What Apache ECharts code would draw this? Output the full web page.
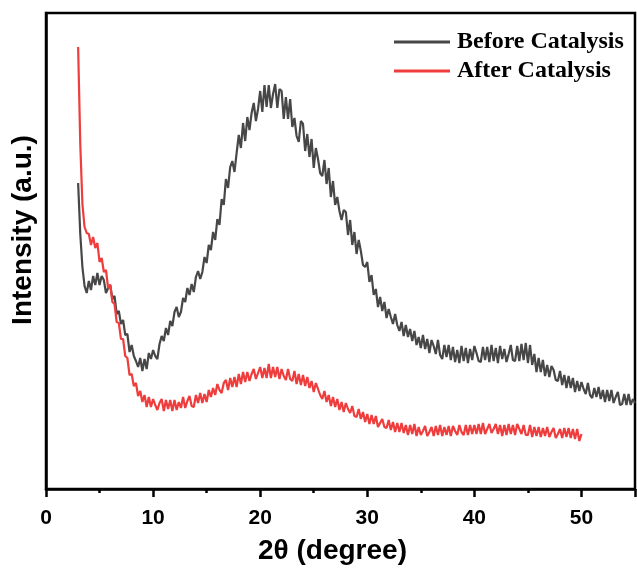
<!DOCTYPE html>
<html><head><meta charset="utf-8">
<script src="https://cdn.jsdelivr.net/npm/echarts@6/dist/echarts.min.js"></script>
<style>html,body{margin:0;padding:0;background:#fff}#c{width:637px;height:569px}</style>
</head><body><div id="c"></div>
<script>
// 2θ sampling: start and step (degrees)
var beforeStart = 3, afterStart = 3, step = 0.2;
var xTicks = [0, 10, 20, 30, 40, 50];
var seriesNames = ['Before Catalysis', 'After Catalysis'];
var beforeValues = [
306,255,222,203,196,
208,199,213,204,216,
204,213,209,196,201,
204,190,193,175,178,
165,169,154,155,137,
144,133,128,122,131,
118,130,120,136,130,
139,133,130,145,153,
148,161,154,168,163,
177,182,172,177,191,
187,201,194,205,197,
212,218,210,217,232,
226,244,239,257,249,
270,264,290,284,310,
301,322,328,317,336,
354,341,366,348,372,
359,376,386,368,380,
398,377,404,382,404,
381,395,405,381,400,
398,370,392,370,390,
362,371,353,347,368,
365,338,355,332,350,
321,341,330,316,313,
329,305,321,292,308,
284,292,278,269,279,
277,254,269,244,257,
235,249,238,224,222,
227,207,214,194,200,
182,192,178,187,171,
180,172,165,175,164,
158,167,153,164,152,
160,148,158,144,152,
141,154,140,150,136,
149,143,135,149,134,
130,144,132,144,129,
142,127,139,126,143,
128,141,126,140,129,
143,136,128,127,142,
129,142,127,144,128,
141,126,143,130,140,
127,135,144,129,128,
143,128,145,129,146,
126,144,124,135,117,
131,117,129,113,124,
112,123,119,109,108,
118,104,114,101,113,
101,111,97,108,98,
107,100,95,106,94,
91,101,92,102,90,
99,87,99,88,99,
86,92,97,84,85,
95,84,95,84,90,
86
];
var afterValues = [
442,345,285,262,256,
255,244,252,241,246,
227,231,217,219,201,
204,187,185,167,166,
150,150,133,131,114,
115,103,106,93,98,
87,94,82,92,82,
90,84,79,86,90,
78,89,80,89,78,
89,79,87,81,92,
81,88,93,83,82,
94,86,96,86,95,
87,99,92,101,94,
105,99,96,106,109,
99,111,102,112,102,
115,105,117,107,117,
108,115,120,110,116,
122,111,121,111,125,
111,122,112,122,110,
120,113,109,120,110,
108,118,105,115,104,
114,103,112,101,108,
97,106,100,94,90,
98,87,94,83,92,
82,90,79,87,77,
86,80,76,83,73,
72,80,70,77,67,
75,65,74,65,73,
62,66,70,62,61,
69,59,67,57,66,
57,66,56,64,54,
64,55,65,53,62,
54,58,63,53,57,
62,53,63,54,64,
53,62,54,63,53,
63,58,54,64,57,
54,64,54,64,55,
64,55,65,55,66,
55,60,65,56,60,
65,55,64,53,64,
54,65,55,64,54,
65,60,55,64,54,
54,64,52,62,53,
62,52,61,53,62,
52,57,61,51,55,
60,51,61,52,61,
51,60,50,60,48,
55
];

function pairs(start, vals) {
  return vals.map(function (v, i) { return [Math.round((start + i * step) * 100) / 100, v]; });
}

var chart = echarts.init(document.getElementById('c'), null, {renderer: 'canvas'});
chart.setOption({
  animation: false,
  backgroundColor: '#fff',
  grid: {left: 46, right: 2, top: 13, bottom: 80, containLabel: false, outerBoundsMode: 'none',
    show: true, borderColor: '#000', borderWidth: 2.5, backgroundColor: 'transparent'},
  legend: {
    data: seriesNames,
    orient: 'vertical',
    left: 389, top: 25,
    itemWidth: 56, itemHeight: 3, itemGap: 5,
    icon: 'rect',
    textStyle: {fontFamily: 'Liberation Serif', fontWeight: 'bold', fontSize: 24, color: '#000', padding: [0, 0, 0, 2]}
  },
  xAxis: {
    type: 'value', min: 0, max: 55, interval: 10,
    name: '2θ (degree)', nameLocation: 'middle', nameGap: 48,
    nameTextStyle: {fontFamily: 'Liberation Sans', fontWeight: 'bold', fontSize: 28, color: '#000', padding: [0, 16, 0, 0]},
    axisLine: {show: true, lineStyle: {color: '#000', width: 2.5}},
    axisTick: {show: true, length: 8, lineStyle: {color: '#000', width: 2.5}},
    minorTick: {show: true, splitNumber: 2, length: 4, lineStyle: {color: '#000', width: 2.5}},
    axisLabel: {margin: 19, fontFamily: 'Liberation Sans', fontWeight: 'bold', fontSize: 21, color: '#000',
      formatter: function (v) { return xTicks.indexOf(v) >= 0 ? String(v) : ''; }},
    splitLine: {show: false}
  },
  yAxis: {
    type: 'value', min: 0, max: 476,
    name: 'Intensity (a.u.)', nameLocation: 'middle', nameGap: 9,
    nameTextStyle: {fontFamily: 'Liberation Sans', fontWeight: 'bold', fontSize: 28, color: '#000', padding: [0, 0, 0, 42]},
    axisLine: {show: true, lineStyle: {color: '#000', width: 2.5}},
    axisTick: {show: false}, axisLabel: {show: false}, splitLine: {show: false}
  },
  series: [
    {name: seriesNames[0], type: 'line', showSymbol: false, symbol: 'none', color: '#474747',
     lineStyle: {width: 2.2, color: '#474747'}, data: pairs(beforeStart, beforeValues)},
    {name: seriesNames[1], type: 'line', showSymbol: false, symbol: 'none', color: '#ef3d3d',
     lineStyle: {width: 2.2, color: '#ef3d3d'}, data: pairs(afterStart, afterValues)}
  ]
});
</script>
</body></html>
